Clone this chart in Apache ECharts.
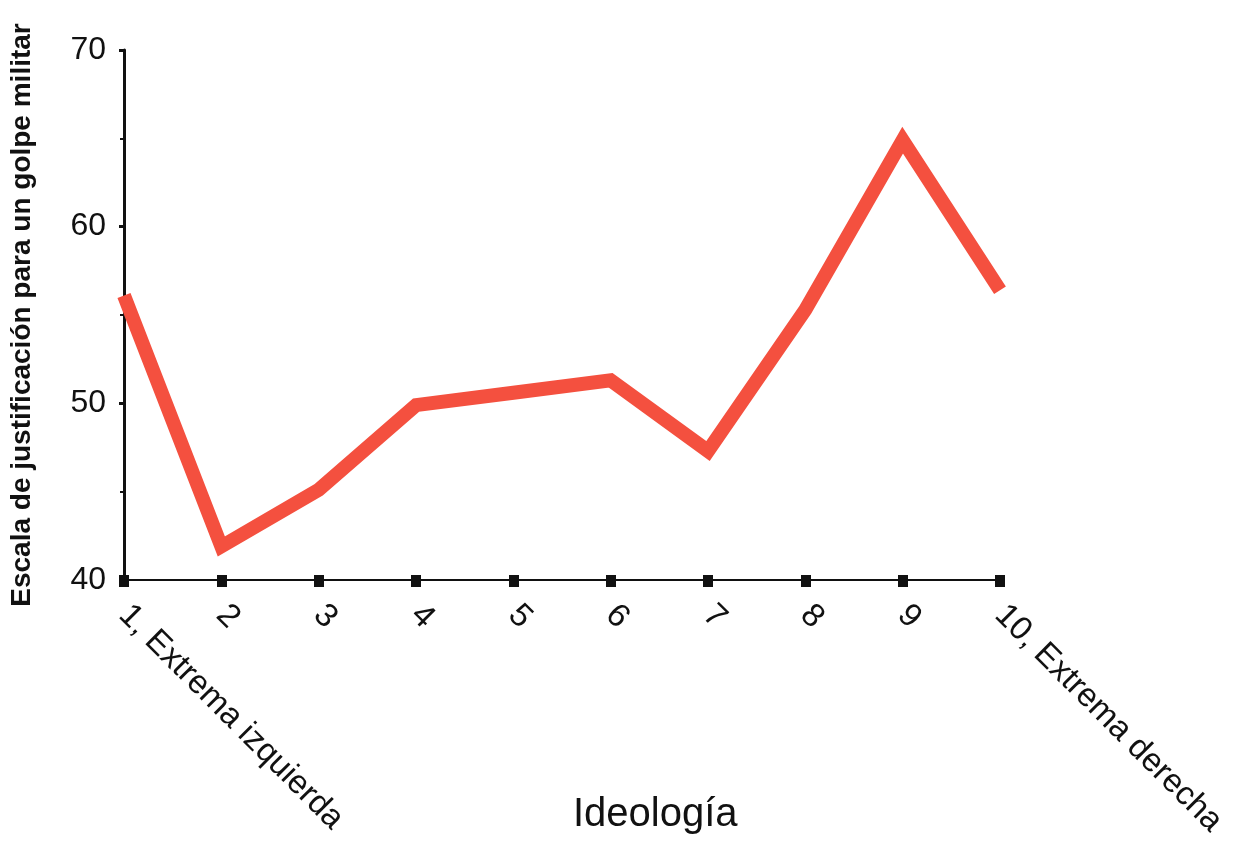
<!DOCTYPE html>
<html>
<head>
<meta charset="utf-8">
<script src="https://cdn.jsdelivr.net/npm/echarts@6/dist/echarts.min.js"></script>
<style>
  html, body {margin:0; padding:0; background:#fff;}
  #main {width:1245px; height:847px;}
</style>
</head>
<body>
<div id="main"></div>
<script>
// ideologia 1..10
var categorias = ['1, Extrema izquierda', '2', '3', '4', '5', '6', '7', '8', '9', '10, Extrema derecha'];
// escala de justificacion
var valores = [56.1, 41.9, 45.1, 49.9, 50.6, 51.3, 47.3, 55.3, 64.9, 56.4];
var yMin = 40, yMax = 70, yPaso = 10;

var chart = echarts.init(document.getElementById('main'));
var fuente = '"Liberation Sans", Arial, sans-serif';

option = {
    backgroundColor: '#fff',
    animation: false,
    title: {
        text: 'Ideología',
        left: 568,
        top: 790,
        textStyle: {fontFamily: fuente, fontSize: 40, fontWeight: 'normal', color: '#111'}
    },
    grid: {
        left: 120,
        right: 245,
        top: 50,
        bottom: 267,
        containLabel: false
    },
    xAxis: [{
        type: 'category',
        data: categorias,
        boundaryGap: false,
        axisLine: {lineStyle: {color: '#111', width: 2}},
        axisTick: {show: true, interval: 0, length: 7, lineStyle: {color: '#111', width: 10}},
        axisLabel: {
            rotate: -45,
            margin: 30,
            fontFamily: fuente,
            fontSize: 33,
            color: '#111',
            interval: 0
        },
        splitLine: {show: false}
    }, {
        // mitad interior de los marcadores cuadrados
        type: 'category',
        data: categorias,
        boundaryGap: false,
        position: 'bottom',
        axisLine: {show: false},
        axisTick: {show: true, interval: 0, inside: true, length: 5, lineStyle: {color: '#111', width: 10}},
        axisLabel: {show: false},
        splitLine: {show: false}
    }],
    yAxis: {
        type: 'value',
        min: yMin,
        max: yMax,
        interval: yPaso,
        name: 'Escala de justificación para un golpe militar',
        nameLocation: 'middle',
        nameGap: 88,
        nameTextStyle: {fontFamily: fuente, fontSize: 28, fontWeight: 'bold', color: '#111'},
        axisLine: {show: true, lineStyle: {color: '#111', width: 3}},
        axisTick: {show: true, length: 5, lineStyle: {color: '#111', width: 3}},
        minorTick: {show: true, splitNumber: 2, length: 4, lineStyle: {color: '#111', width: 2}},
        axisLabel: {margin: 18, fontFamily: fuente, fontSize: 32, color: '#111'},
        splitLine: {show: false}
    },
    series: [{
        name: 'Escala',
        type: 'line',
        data: valores,
        symbol: 'none',
        lineStyle: {color: '#f4503f', width: 14, join: 'miter', cap: 'butt'}
    }]
};
chart.setOption(option);
</script>
</body>
</html>
